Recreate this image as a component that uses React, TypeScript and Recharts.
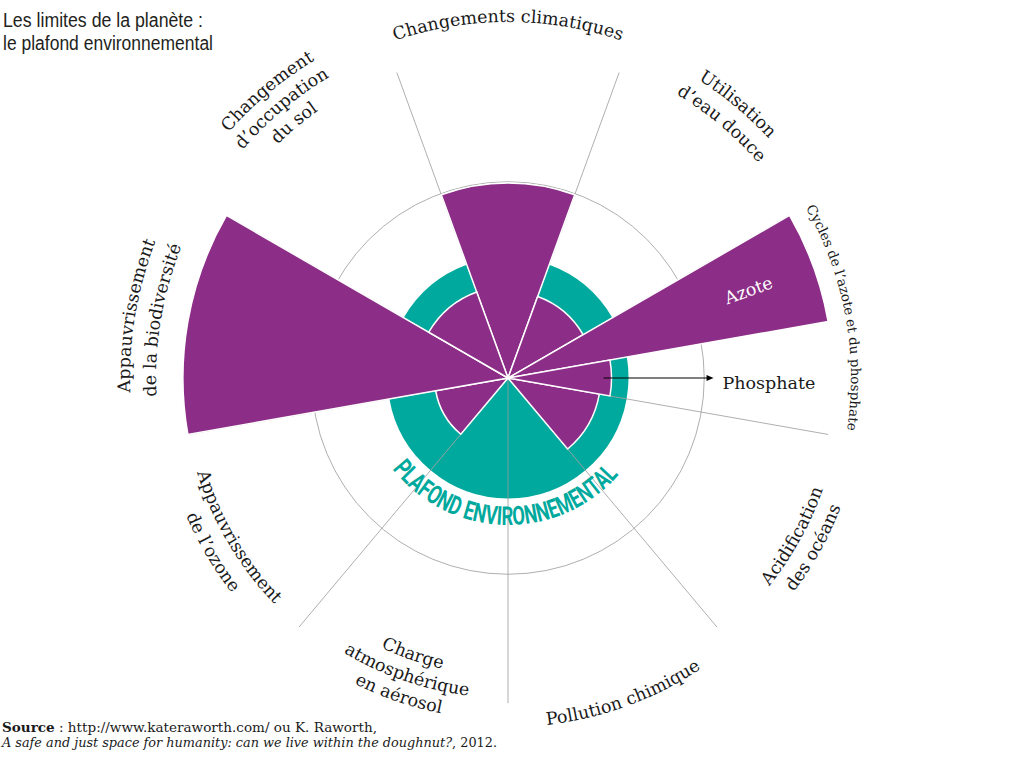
import React from 'react';
import {
  RadialBarChart,
  RadialBar,
  PolarAngleAxis,
  PolarRadiusAxis,
  PolarGrid,
  LabelList,
} from 'recharts';

// ---------- data ----------
const categories = [
  'Changements climatiques',
  "Utilisation d'eau douce",
  "Cycles de l'azote et du phosphate",
  'Acidification des océans',
  'Pollution chimique',
  'Charge atmosphérique en aérosol',
  "Appauvrissement de l'ozone",
  'Appauvrissement de la biodiversité',
  "Changement d'occupation du sol",
];
// status relative to the planetary boundary (1 = plafond)
const status: (number | null)[] = [1.62, 0.72, null, 0.77, null, null, 0.61, 2.7, 0.76];
const plafond = [1, 1, 1, 1, 1, 1, 1, 1, 1];
const cycleParts = ['Azote', 'Phosphate'];
const cycleStatus = [2.7, 0.86];
const outerRing = 1.63;
const lineExtent = 2.7;
const labelLines = [
  ['Changements climatiques'],
  ['Utilisation', 'd’eau douce'],
  ['Cycles de l’azote et du phosphate'],
  ['Acidification', 'des océans'],
  ['Pollution chimique'],
  ['Charge', 'atmosphérique', 'en aérosol'],
  ['Appauvrissement', 'de l’ozone'],
  ['Appauvrissement', 'de la biodiversité'],
  ['Changement', 'd’occupation', 'du sol'],
];
const titleLines = ['Les limites de la planète :', 'le plafond environnemental'];
const ringLabel = 'PLAFOND ENVIRONNEMENTAL';

// ---------- layout / style ----------
const W = 1013;
const H = 766;
const CX = 508;
const CY = 378;
const R_MAX = 3;
const PX_PER_UNIT = 120.4;
const OUTER = R_MAX * PX_PER_UNIT;
const STEP = 360 / categories.length;
const START = 90 + STEP / 2; // first boundary (math degrees)
const MAIN_START = START - STEP; // recharts draws each bar one band after its tick
const SUB_STEP = STEP / cycleParts.length;
const PURPLE = '#8C2D87';
const TEAL = '#00A99D';
const GRID = '#9a9a9a';
const SERIF = "'DejaVu Serif', 'Liberation Serif', serif";
const SANS_N = "'Liberation Sans Narrow', 'Liberation Sans', Arial, sans-serif";
const MARGIN = { top: 0, right: 0, bottom: 0, left: 0 };

const LABEL_LAYOUT = [
  { r: 356, lh: 0, fs: 17.5, dAng: 0 },
  { r: 354, lh: 24, fs: 17.5, dAng: 0 },
  { r: 343, lh: 0, fs: 13.5, dAng: -0.5 },
  { r: 334, lh: 23, fs: 17.5, dAng: -1 },
  { r: 349, lh: 0, fs: 17.5, dAng: 0 },
  { r: 298, lh: 22, fs: 17.5, dAng: -1 },
  { r: 325, lh: 25, fs: 17.5, dAng: -0.5 },
  { r: 378, lh: 26, fs: 17.5, dAng: -0.5 },
  { r: 372, lh: 22, fs: 17.5, dAng: 0 },
];

const RAD = Math.PI / 180;
const polar = (cx: number, cy: number, compass: number, r: number) => [
  cx + r * Math.sin(compass * RAD),
  cy - r * Math.cos(compass * RAD),
];
const arcPath = (cx: number, cy: number, compass: number, r: number, span: number, clockwise: boolean) => {
  const a = clockwise ? compass - span : compass + span;
  const b = clockwise ? compass + span : compass - span;
  const [x0, y0] = polar(cx, cy, a, r);
  const [x1, y1] = polar(cx, cy, b, r);
  return `M ${x0} ${y0} A ${r} ${r} 0 0 ${clockwise ? 1 : 0} ${x1} ${y1}`;
};

const AngleTick = (props: any) => {
  const payload = props.payload;
  if (!payload) return null;
  const i = categories.indexOf(payload.value);
  if (i < 0) return null;
  const cx = typeof props.cx === 'number' ? props.cx : CX;
  const cy = typeof props.cy === 'number' ? props.cy : CY;
  const cfg = LABEL_LAYOUT[i];
  // band centre = tick + half a band (counter-clockwise in math degrees)
  const compass = ((((90 - payload.coordinate - STEP / 2) % 360) + 360) % 360) + cfg.dAng;
  const top = compass <= 90 || compass >= 270;
  return (
    <g>
      {labelLines[i].map((line, k) => {
        const r = top ? cfg.r - k * cfg.lh : cfg.r + k * cfg.lh;
        const id = `lab-${i}-${k}`;
        return (
          <g key={k}>
            <path id={id} d={arcPath(cx, cy, compass, r, 75, top)} fill="none" stroke="none" />
            <text fontFamily={SERIF} fontSize={cfg.fs} fill="#1a1a1a">
              <textPath href={`#${id}`} startOffset="50%" textAnchor="middle">
                {line}
              </textPath>
            </text>
          </g>
        );
      })}
    </g>
  );
};

const CycleLabel = (props: any) => {
  const { viewBox, index } = props;
  if (!viewBox || typeof viewBox.cx !== 'number') return null;
  const { cx, cy, outerRadius, startAngle, endAngle } = viewBox;
  const mid = (startAngle + endAngle) / 2;
  const compass = 90 - mid;
  if (index === 0) {
    const [x, y] = polar(cx, cy, compass, outerRadius - 69);
    return (
      <text
        x={x}
        y={y}
        transform={`rotate(${compass - 90} ${x} ${y})`}
        textAnchor="middle"
        dominantBaseline="central"
        fill="#fff"
        fontFamily={SERIF}
        fontSize={17.5}
      >
        {cycleParts[0]}
      </text>
    );
  }
  const [x0, y0] = polar(cx, cy, compass, outerRadius - 8);
  const x1 = x0 + 110;
  return (
    <g>
      <line x1={x0} y1={y0} x2={x1 - 5} y2={y0} stroke="#000" strokeWidth={1.1} />
      <path d={`M ${x1} ${y0} L ${x1 - 7} ${y0 - 3} L ${x1 - 7} ${y0 + 3} Z`} fill="#000" />
      <text x={x1 + 9} y={y0 + 10.5} fontFamily={SERIF} fontSize={17.5} fill="#1a1a1a">
        {cycleParts[1]}
      </text>
    </g>
  );
};

const layer: React.CSSProperties = { position: 'absolute', left: 0, top: 0, width: W, height: H };

export default function App() {
  const tealData = categories.map((name, i) => ({ name, plafond: plafond[i] }));
  const mainData = categories.map((name, i) => ({ name, status: status[i] }));
  const cycleData = cycleParts.map((name, i) => ({ name, status: cycleStatus[i] }));
  const cycIdx = categories.indexOf("Cycles de l'azote et du phosphate");
  const cycStart = START - cycIdx * STEP - SUB_STEP;
  const cycEnd = cycStart - STEP;
  const boundaryAngles = categories.map((_, i) => START - i * STEP);
  const ringPx = outerRing * PX_PER_UNIT;

  const common = {
    width: W,
    height: H,
    cx: CX,
    cy: CY,
    innerRadius: 0,
    outerRadius: OUTER,
    layout: 'centric' as any,
    barCategoryGap: '0%',
    margin: MARGIN,
  };
  const radiusAxis = (
    <PolarRadiusAxis type="number" domain={[0, R_MAX]} allowDataOverflow tick={false} axisLine={false} />
  );

  return (
    <div style={{ ...layer, background: '#fff' }}>
      {/* teal boundary disc */}
      <div style={layer}>
        <RadialBarChart {...common} startAngle={MAIN_START} endAngle={MAIN_START - 360} data={tealData}>
          <PolarAngleAxis dataKey="name" type="category" tick={false} axisLine={false} tickLine={false} />
          {radiusAxis}
          <RadialBar dataKey="plafond" fill={TEAL} stroke="none" isAnimationActive={false} />
        </RadialBarChart>
      </div>
      {/* grid: dividers and outer ring */}
      <div style={layer}>
        <RadialBarChart
          {...common}
          outerRadius={lineExtent * PX_PER_UNIT}
          startAngle={MAIN_START}
          endAngle={MAIN_START - 360}
          data={mainData}
        >
          <PolarGrid
            gridType="circle"
            polarAngles={boundaryAngles}
            polarRadius={[ringPx]}
            stroke={GRID}
            strokeWidth={0.8}
          />
          <PolarAngleAxis dataKey="name" type="category" tick={false} axisLine={false} tickLine={false} />
          {radiusAxis}
        </RadialBarChart>
      </div>
      {/* status wedges, labels */}
      <div style={layer}>
        <RadialBarChart {...common} startAngle={MAIN_START} endAngle={MAIN_START - 360} data={mainData}>
          <PolarAngleAxis dataKey="name" type="category" axisLine={false} tickLine={false} tick={AngleTick} />
          {radiusAxis}
          <RadialBar dataKey="status" fill={PURPLE} stroke="#fff" strokeWidth={1.5} isAnimationActive={false} />
        </RadialBarChart>
      </div>
      {/* nitrogen / phosphorus split */}
      <div style={layer}>
        <RadialBarChart {...common} startAngle={cycStart} endAngle={cycEnd} data={cycleData}>
          <PolarAngleAxis dataKey="name" type="category" tick={false} axisLine={false} tickLine={false} />
          {radiusAxis}
          <RadialBar dataKey="status" fill={PURPLE} stroke="#fff" strokeWidth={1.5} isAnimationActive={false}>
            <LabelList dataKey="status" content={CycleLabel} />
          </RadialBar>
        </RadialBarChart>
      </div>
      {/* texts */}
      <svg style={{ ...layer, pointerEvents: 'none' }} width={W} height={H}>
        <path id="ring-path" d={arcPath(CX, CY, 181.5, 147, 75, false)} fill="none" stroke="none" />
        <text fontFamily="Roboto, 'DejaVu Sans', sans-serif" fontWeight={700} fontSize={26} fill={TEAL}>
          <textPath
            href="#ring-path"
            startOffset="50%"
            textAnchor="middle"
            textLength={258}
            lengthAdjust="spacingAndGlyphs"
          >
            {ringLabel}
          </textPath>
        </text>
        <text x={3} y={26.5} fontFamily={SANS_N} fontSize={19.5} fill="#231f20" textLength={200} lengthAdjust="spacingAndGlyphs">
          {titleLines[0]}
        </text>
        <text x={3} y={50} fontFamily={SANS_N} fontSize={19.5} fill="#231f20" textLength={210} lengthAdjust="spacingAndGlyphs">
          {titleLines[1]}
        </text>
        <text x={2} y={732} fontFamily={SERIF} fontSize={12} fill="#1a1a1a" textLength={375} lengthAdjust="spacingAndGlyphs">
          <tspan fontWeight={700}>Source</tspan> : http://www.kateraworth.com/ ou K. Raworth,
        </text>
        <text x={2} y={747} fontFamily={SERIF} fontSize={12} fill="#1a1a1a" textLength={495} lengthAdjust="spacingAndGlyphs">
          <tspan fontStyle="italic">A safe and just space for humanity: can we live within the doughnut?</tspan>, 2012.
        </text>
      </svg>
    </div>
  );
}
